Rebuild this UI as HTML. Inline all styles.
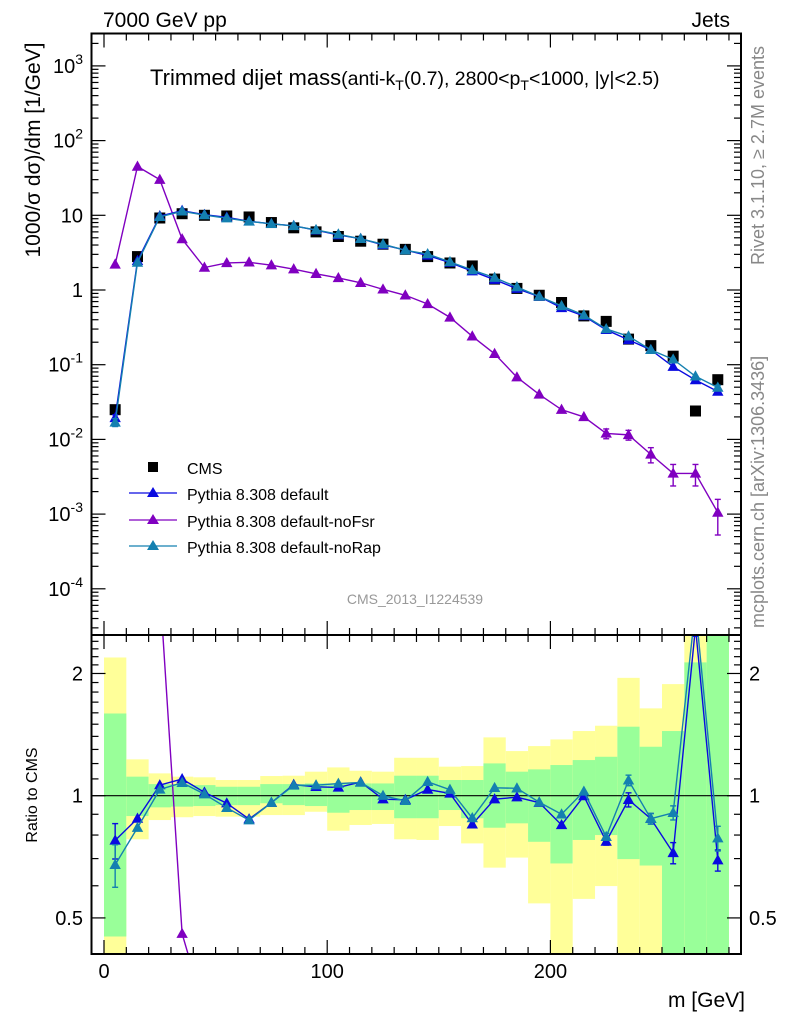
<!DOCTYPE html>
<html><head><meta charset="utf-8"><style>
html,body{margin:0;padding:0;background:#fff;width:786px;height:1024px;overflow:hidden}
svg{display:block;font-family:"Liberation Sans",Arial,sans-serif}
</style></head><body>
<svg id="chart" width="786" height="1024" viewBox="0 0 786 1024" xmlns="http://www.w3.org/2000/svg">
<defs>
<clipPath id="clipMain"><rect x="91.5" y="33.5" width="650" height="601.5"/></clipPath>
<clipPath id="clipRatio"><rect x="91.5" y="635" width="650" height="319"/></clipPath>
</defs>
<g id="bands" clip-path="url(#clipRatio)"></g>
<g id="ratioMarks" clip-path="url(#clipRatio)"></g>
<g id="mainMarks" clip-path="url(#clipMain)"></g>
<g id="axes"></g>
<text x="103" y="27" font-size="21">7000 GeV pp</text>
<text x="730" y="27" font-size="21" text-anchor="end">Jets</text>
<text x="150" y="85" font-size="22">Trimmed dijet mass<tspan font-size="19.5">(anti-k</tspan><tspan font-size="14" dy="5">T</tspan><tspan font-size="19.5" dy="-5">(0.7), 2800&lt;p</tspan><tspan font-size="14" dy="5">T</tspan><tspan font-size="19.5" dy="-5">&lt;1000, |y|&lt;2.5)</tspan></text>
<text transform="translate(40,150) rotate(-90)" font-size="21" text-anchor="middle">1000/σ dσ)/dm [1/GeV]</text>
<text transform="translate(37,795) rotate(-90)" font-size="16" text-anchor="middle">Ratio to CMS</text>
<text x="745" y="1007" font-size="21" text-anchor="end">m [GeV]</text>
<text transform="translate(764,265) rotate(-90)" font-size="18" fill="#888">Rivet 3.1.10, ≥ 2.7M events</text>
<text transform="translate(764,628) rotate(-90)" font-size="18" fill="#888">mcplots.cern.ch [arXiv:1306.3436]</text>
<text x="415" y="604" font-size="14" fill="#999" text-anchor="middle">CMS_2013_I1224539</text>
<g id="legend">
<rect x="148" y="462" width="10" height="10" fill="#000"/>
<text x="187" y="474" font-size="16">CMS</text>
<line x1="129" y1="493" x2="177" y2="493" stroke="#0a0ae0" stroke-width="1.3"/>
<path d="M153,487 L159,497 L147,497 Z" fill="#0a0ae0"/>
<text x="187" y="500" font-size="16">Pythia 8.308 default</text>
<line x1="129" y1="520" x2="177" y2="520" stroke="#8000c0" stroke-width="1.3"/>
<path d="M153,514 L159,524 L147,524 Z" fill="#8000c0"/>
<text x="187" y="527" font-size="16">Pythia 8.308 default-noFsr</text>
<line x1="129" y1="546" x2="177" y2="546" stroke="#1480b0" stroke-width="1.3"/>
<path d="M153,540 L159,550 L147,550 Z" fill="#1480b0"/>
<text x="187" y="553" font-size="16">Pythia 8.308 default-noRap</text>
</g>
</svg>
<script>
const binCenters=[5,15,25,35,45,55,65,75,85,95,105,115,125,135,145,155,165,175,185,195,205,215,225,235,245,255,265,275];
const cmsValues=[0.025,2.8,9.2,10.5,10,9.8,9.5,8,6.8,6,5.2,4.5,4.1,3.5,2.8,2.3,2.1,1.4,1.05,0.85,0.68,0.45,0.38,0.22,0.18,0.13,0.024,0.063];
const defaultValues=[0.0194,2.46,9.77,11.54,10.19,9.39,8.32,7.69,7.24,6.31,5.45,4.86,4.02,3.42,2.90,2.33,1.785,1.373,1.041,0.817,0.576,0.449,0.293,0.215,0.158,0.094,0.0624,0.0437];
const noFsrValues=[2.2,45,30,4.8,2.0,2.3,2.35,2.15,1.9,1.65,1.45,1.25,1.02,0.85,0.65,0.43,0.24,0.14,0.068,0.04,0.025,0.02,0.012,0.0115,0.0063,0.0035,0.0035,0.00105];
const noRapValues=[0.0169,2.335,9.53,11.3,10.09,9.15,8.27,7.69,7.21,6.37,5.57,4.85,4.10,3.40,3.03,2.38,1.85,1.464,1.095,0.819,0.612,0.461,0.301,0.240,0.158,0.118,0.070,0.0495];
const defaultRelErr=[0.1,0.01,0.01,0.01,0.01,0.01,0.01,0.01,0.01,0.01,0.01,0.01,0.01,0.01,0.01,0.01,0.01,0.01,0.01,0.01,0.01,0.01,0.02,0.04,0.03,0.06,0.05,0.06];
const noRapRelErr=[0.12,0.01,0.01,0.01,0.01,0.01,0.01,0.01,0.01,0.01,0.01,0.01,0.01,0.01,0.01,0.01,0.01,0.01,0.01,0.01,0.01,0.01,0.02,0.03,0.03,0.04,0.05,0.07];
const noFsrRelErr=[0.02,0.01,0.01,0.01,0.01,0.01,0.01,0.01,0.01,0.01,0.01,0.01,0.01,0.01,0.01,0.02,0.02,0.03,0.04,0.05,0.05,0.06,0.15,0.15,0.23,0.32,0.32,0.5];
const yellowUp=[2.19,1.229,1.135,1.114,1.11,1.093,1.093,1.118,1.12,1.146,1.174,1.152,1.146,1.24,1.24,1.179,1.183,1.392,1.288,1.325,1.376,1.443,1.487,1.951,1.641,1.883,3,3];
const yellowLo=[0.3,0.781,0.871,0.885,0.891,0.888,0.888,0.896,0.896,0.913,0.82,0.847,0.852,0.781,0.778,0.842,0.763,0.665,0.704,0.543,0.3,0.557,0.599,0.3,0.3,0.3,0.3,0.3];
const greenUp=[1.594,1.114,1.068,1.068,1.062,1.052,1.052,1.068,1.068,1.072,1.072,1.072,1.072,1.12,1.12,1.093,1.093,1.201,1.146,1.161,1.19,1.224,1.247,1.479,1.32,1.443,2.13,3];
const greenLo=[0.45,0.891,0.936,0.94,0.943,0.948,0.948,0.958,0.948,0.943,0.908,0.922,0.922,0.88,0.88,0.922,0.88,0.834,0.855,0.77,0.681,0.778,0.8,0.698,0.673,0.3,0.3,0.3];
const xTickLabels=[0,100,200];
const mainTickExps=[3,2,1,0,-1,-2,-3,-4];
const ratioTickLabels=[0.5,1,2];

const NS="http://www.w3.org/2000/svg";
const X0=104,XS=2.232;
function xs(v){return X0+v*XS;}
function ym(v){return 290-74.7*Math.log10(v);}
function yr(r){return Math.min(1010,Math.max(-60,795.7-406*Math.log10(r)));}
function mk(tag,attrs,parent){const e=document.createElementNS(NS,tag);for(const k in attrs)e.setAttribute(k,attrs[k]);parent.appendChild(e);return e;}
const bands=document.getElementById('bands');
const ratioG=document.getElementById('ratioMarks');
const mainG=document.getElementById('mainMarks');
const axes=document.getElementById('axes');

function clampR(r){return Math.min(Math.max(r,0.35),3);}
binCenters.forEach((c,i)=>{
  const x1=xs(c-5),x2=xs(c+5);
  const yb=mk('rect',{x:x1,y:yr(clampR(yellowUp[i])),width:x2-x1,height:yr(clampR(yellowLo[i]))-yr(clampR(yellowUp[i])),fill:'#ffff99'},bands);
  
  
  const gb=mk('rect',{x:x1,y:yr(clampR(greenUp[i])),width:x2-x1,height:yr(clampR(greenLo[i]))-yr(clampR(greenUp[i])),fill:'#99ff99'},bands);
  
  
});
const one=mk('line',{x1:91.5,y1:yr(1),x2:741,y2:yr(1),stroke:'#000','stroke-width':1.2},ratioG);



function tri(g,x,y,color,s){return mk('path',{d:`M${x},${y-s} L${x+s*0.95},${y+s*0.7} L${x-s*0.95},${y+s*0.7} Z`,fill:color},g);}
function drawSeries(g,vals,errs,color,ymap,name,isRatio){
  const pts=binCenters.map((c,i)=>{const v=isRatio?vals[i]/cmsValues[i]:vals[i];return [xs(c),ymap(Math.max(v,1e-9))];});
  const pl=mk('polyline',{points:pts.map(p=>p.join(',')).join(' '),fill:'none',stroke:color,'stroke-width':1.4},g);
  
  
  binCenters.forEach((c,i)=>{
    const v=isRatio?vals[i]/cmsValues[i]:vals[i];
    const y0=ymap(v);
    if(y0<-20||y0>1000)return;
    const e=errs[i];
    const y1=ymap(v*(1+e)),y2=ymap(Math.max(v*(1-e),1e-9));
    if(y2-y1>4){
      mk('line',{x1:xs(c),y1:y1,x2:xs(c),y2:y2,stroke:color,'stroke-width':1.4},g);
      mk('line',{x1:xs(c)-3,y1:y1,x2:xs(c)+3,y2:y1,stroke:color,'stroke-width':1.4},g);
      mk('line',{x1:xs(c)-3,y1:y2,x2:xs(c)+3,y2:y2,stroke:color,'stroke-width':1.4},g);
    }
    const t=tri(g,xs(c),y0,color,6);
    
    
  });
}
drawSeries(ratioG,noFsrValues,noFsrRelErr,'#8000c0',yr,'nofsr-ratio',true);
drawSeries(ratioG,defaultValues,defaultRelErr,'#0a0ae0',yr,'default-ratio',true);
drawSeries(ratioG,noRapValues,noRapRelErr,'#1480b0',yr,'norap-ratio',true);
drawSeries(mainG,noFsrValues,noFsrRelErr,'#8000c0',ym,'nofsr',false);
binCenters.forEach((c,i)=>{
  const r=mk('rect',{x:xs(c)-5.5,y:ym(cmsValues[i])-5.5,width:11,height:11,fill:'#000'},mainG);
  
  
});
drawSeries(mainG,defaultValues,defaultRelErr,'#0a0ae0',ym,'default',false);
drawSeries(mainG,noRapValues,noRapRelErr,'#1480b0',ym,'norap',false);

const L=91.5,R=741,T=33.5,M=635,B=954;
mk('rect',{x:L,y:T,width:R-L,height:M-T,fill:'none',stroke:'#000','stroke-width':2},axes);
mk('rect',{x:L,y:M,width:R-L,height:B-M,fill:'none',stroke:'#000','stroke-width':2},axes);
for(let v=0;v<=280;v+=10){
  const len=(v%100===0)?14:7;
  [T,M,B].forEach(yy=>{
    if(yy!==T) mk('line',{x1:xs(v),y1:yy,x2:xs(v),y2:yy-len,stroke:'#000','stroke-width':1.2},axes);
    if(yy!==B) mk('line',{x1:xs(v),y1:yy,x2:xs(v),y2:yy+len,stroke:'#000','stroke-width':1.2},axes);
  });
}
xTickLabels.forEach(v=>{
  const t=mk('text',{x:xs(v),y:978,'font-size':20,'text-anchor':'middle'},axes);
  t.textContent=String(v);
  
  
});
for(let e=-5;e<=3;e++){
  for(let k=1;k<10;k++){
    const v=k*Math.pow(10,e);const y=ym(v);
    if(y<T||y>M)continue;
    const len=k===1?14:7;
    mk('line',{x1:L,y1:y,x2:L+len,y2:y,stroke:'#000','stroke-width':1.2},axes);
    mk('line',{x1:R,y1:y,x2:R-len,y2:y,stroke:'#000','stroke-width':1.2},axes);
  }
}
mainTickExps.forEach(e=>{
  const y=ym(Math.pow(10,e));
  const t=mk('text',{x:83,y:y+7,'font-size':20,'text-anchor':'end'},axes);
  
  
  if(e===1)t.textContent='10';
  else if(e===0)t.textContent='1';
  else{t.textContent='10';const s=mk('tspan',{'font-size':14,dy:-9},t);s.textContent=String(e);}
});
for(let r=0.4;r<=2.5;r+=0.1){
  const y=yr(r);if(y<M||y>B)continue;
  const major=Math.abs(r-0.5)<1e-6||Math.abs(r-1)<1e-6||Math.abs(r-2)<1e-6;
  const len=major?14:7;
  mk('line',{x1:L,y1:y,x2:L+len,y2:y,stroke:'#000','stroke-width':1.2},axes);
  mk('line',{x1:R,y1:y,x2:R-len,y2:y,stroke:'#000','stroke-width':1.2},axes);
}
ratioTickLabels.forEach(r=>{
  const y=yr(r)+7;
  const a=mk('text',{x:83,y:y,'font-size':20,'text-anchor':'end'},axes);
  a.textContent=String(r);
  
  
  const b=mk('text',{x:749,y:y,'font-size':20},axes);
  b.textContent=String(r);
  
  
});
</script>
</body></html>
